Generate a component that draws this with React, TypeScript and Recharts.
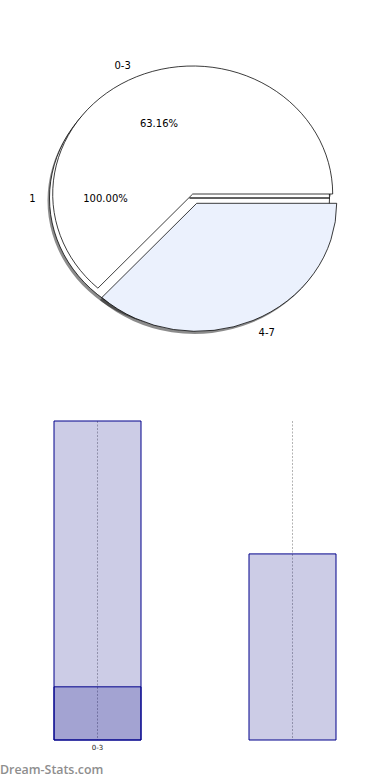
import { PieChart, Pie, Cell, BarChart, Bar, XAxis, YAxis, CartesianGrid } from 'recharts';

// pie data
const sliceNames = ['0-3', '4-7'];
const sliceValues = [12, 7];
const showPct = [true, false];
const outerName = '1';
const outerValue = 1;

// bar data
const barCategories = ['0-3', '4-7'];
const barTotals = [12, 7];
const barParts = [2, 0];
const shownTicks = ['0-3'];

const SY = 128 / 140; // pie is drawn squashed into an ellipse
const R = 140;
const RAD = Math.PI / 180;

const total = sliceValues.reduce((a, b) => a + b, 0);
let acc = 0;
const slices = sliceNames.map((name, i) => {
    const start = (acc / total) * 360;
    acc += sliceValues[i];
    const end = (acc / total) * 360;
    return { name, value: sliceValues[i], pct: sliceValues[i] / total, start, end, showPct: showPct[i] };
});

const sliceCenters = [
    { cx: 192.7, cy: 194 / SY },
    { cx: 196.7, cy: 203.3 / SY },
];
const outerCenter = { cx: 189.5, cy: 198 / SY };
const SHX = -2;
const SHY = 2.6 / SY;

const barData = barCategories.map((name, i) => ({ name, total: barTotals[i], part: barParts[i] }));

function UnText({ x, y, anchor, children }: any) {
    return (
        <text
            x={x}
            y={y}
            textAnchor={anchor}
            dominantBaseline="central"
            fontSize={10}
            fontFamily="DejaVu Sans"
            fill="#000"
            transform={`translate(${x},${y}) scale(1,${1 / SY}) translate(${-x},${-y})`}
        >
            {children}
        </text>
    );
}

function makeLabel(name: string, pct: number, withPct: boolean) {
    return (props: any) => {
        const { cx, cy, midAngle } = props;
        const cos = Math.cos(-midAngle * RAD);
        const sin = Math.sin(-midAngle * RAD);
        const lx = cx + R * 1.1 * cos;
        const ly = cy + R * 1.1 * sin;
        const px = cx + R * 0.6 * cos;
        const py = cy + R * 0.6 * sin;
        return (
            <g>
                <UnText x={lx} y={ly} anchor={cos < -0.01 ? 'end' : cos > 0.01 ? 'start' : 'middle'}>{name}</UnText>
                {withPct && <UnText x={px} y={py} anchor="middle">{(pct * 100).toFixed(2) + '%'}</UnText>}
            </g>
        );
    };
}

export default function App() {
    const outerData = [{ name: outerName, value: outerValue }];
    return (
        <div style={{ position: 'absolute', left: 0, top: 0, width: 390, height: 780, background: '#fff', overflow: 'hidden' }}>
            <div style={{ position: 'absolute', left: 0, top: 0, width: 390, height: 380, transform: `scaleY(${SY})`, transformOrigin: '0 0' }}>
                <PieChart width={390} height={380} margin={{ top: 0, right: 0, bottom: 0, left: 0 }}>
                    {/* shadows go underneath every wedge */}
                    <Pie
                        data={outerData}
                        dataKey="value"
                        cx={outerCenter.cx + SHX}
                        cy={outerCenter.cy + SHY}
                        outerRadius={R}
                        startAngle={0}
                        endAngle={360}
                        stroke="none"
                        isAnimationActive={false}
                    >
                        <Cell fill="#000" fillOpacity={0.45} />
                    </Pie>
                    {slices.map((s, i) => (
                        <Pie
                            key={'sh' + i}
                            data={[s]}
                            dataKey="value"
                            cx={sliceCenters[i].cx + SHX}
                            cy={sliceCenters[i].cy + SHY}
                            outerRadius={R}
                            startAngle={s.start}
                            endAngle={s.end}
                            stroke="none"
                            isAnimationActive={false}
                        >
                            <Cell fill="#000" fillOpacity={0.45} />
                        </Pie>
                    ))}
                    <Pie
                        data={outerData}
                        dataKey="value"
                        cx={outerCenter.cx}
                        cy={outerCenter.cy}
                        outerRadius={R}
                        startAngle={0}
                        endAngle={360}
                        stroke="#000"
                        strokeWidth={0.8}
                        labelLine={false}
                        label={makeLabel(outerName, 1, true)}
                        isAnimationActive={false}
                    >
                        <Cell fill="#fff" />
                    </Pie>
                    {slices.map((s, i) => (
                        <Pie
                            key={'p' + i}
                            data={[s]}
                            dataKey="value"
                            cx={sliceCenters[i].cx}
                            cy={sliceCenters[i].cy}
                            outerRadius={R}
                            startAngle={s.start}
                            endAngle={s.end}
                            stroke="#000"
                            strokeWidth={0.8}
                            labelLine={false}
                            label={makeLabel(s.name, s.pct, s.showPct)}
                            isAnimationActive={false}
                        >
                            <Cell fill={i === 0 ? '#ffffff' : '#ebf1fd'} />
                        </Pie>
                    ))}
                </PieChart>
            </div>

            <div style={{ position: 'absolute', left: 0, top: 400 }}>
                <BarChart
                    width={390}
                    height={360}
                    data={barData}
                    margin={{ top: 21, right: 0, bottom: 0, left: 0 }}
                    barSize={87}
                    barGap={-87}
                >
                    <CartesianGrid horizontal={false} syncWithTicks stroke="#b4b4b4" strokeDasharray="2 1.5" />
                    <XAxis
                        dataKey="name"
                        height={20}
                        axisLine={false}
                        tickLine={false}
                        tickSize={0}
                        tickMargin={5}
                        interval={0}
                        tick={{ fontSize: 7, fill: '#222', fontFamily: 'DejaVu Sans' }}
                        tickFormatter={(v: string) => (shownTicks.includes(v) ? v : '')}
                    />
                    <YAxis hide domain={[0, 12]} />
                    <Bar dataKey="total" fill="#000080" fillOpacity={0.2} stroke="#00008b" strokeWidth={1} isAnimationActive={false} />
                    <Bar dataKey="part" fill="#000080" fillOpacity={0.2} stroke="#00008b" strokeWidth={1} isAnimationActive={false} />
                </BarChart>
            </div>

            <div
                style={{
                    position: 'absolute',
                    left: 0,
                    top: 762,
                    fontFamily: '"Open Sans"',
                    fontSize: 12.4,
                    fontWeight: 600,
                    color: '#8e8e8e',
                    lineHeight: '16px',
                }}
            >
                Dream-Stats.com
            </div>
        </div>
    );
}
